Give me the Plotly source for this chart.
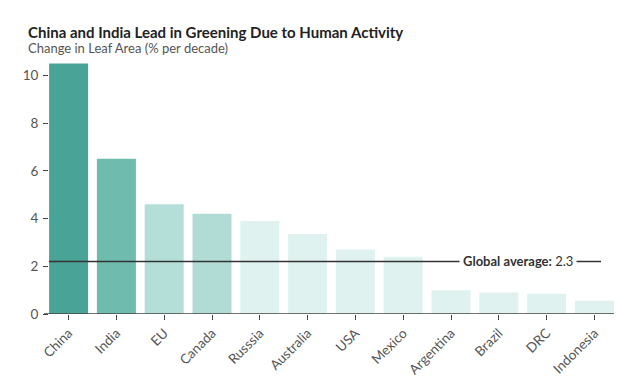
import plotly.graph_objects as go

countries = ["China", "India", "EU", "Canada", "Russsia", "Australia", "USA",
             "Mexico", "Argentina", "Brazil", "DRC", "Indonesia"]
leaf_change = [10.5, 6.5, 4.6, 4.2, 3.9, 3.35, 2.7, 2.4, 1.0, 0.9, 0.85, 0.55]
bar_colors = ["#4aa397", "#6fbcaf", "#b3dfd8", "#b0dcd5", "#dff2ef", "#dff2ef",
              "#dff2ef", "#dff2ef", "#dff2ef", "#dff2ef", "#dff2ef", "#dff2ef"]
y_ticks = [0, 2, 4, 6, 8, 10]
global_avg = 2.2
global_avg_label = "2.3"

FONT = "Lato"
GRAY = "#444444"

fig = go.Figure()
fig.add_trace(go.Bar(
    x=countries, y=leaf_change, marker=dict(color=bar_colors, line=dict(width=0)),
    hoverinfo="x+y",
))

fig.update_layout(
    width=632, height=382,
    margin=dict(l=41, r=26, t=53, b=76),
    plot_bgcolor="white", paper_bgcolor="white",
    bargap=0.184,
    showlegend=False,
    font=dict(family=FONT, color=GRAY, size=13),
    xaxis=dict(
        range=[-0.41, 11.41], showgrid=False, zeroline=False, showline=False,
        ticks="outside", ticklen=5, tickcolor=GRAY, tickwidth=1.2,
        tickangle=-45, tickfont=dict(size=13.5, color="#555555"),
    ),
    yaxis=dict(
        range=[0, 10.6], showgrid=False, zeroline=False, showline=False,
        tickvals=y_ticks, ticks="outside", ticklen=5, tickcolor=GRAY, tickwidth=1.2,
        tickfont=dict(size=13.5, color="#555555"), ticklabelstandoff=2,
    ),
)

# x axis baseline (extends a little to the left like the reference)
fig.add_shape(type="line", xref="paper", yref="y", x0=-5 / 565, x1=1, y0=0, y1=0,
              line=dict(color=GRAY, width=1.5), layer="above")

# global average line
fig.add_shape(type="line", xref="paper", yref="y", x0=0, x1=0.977,
              y0=global_avg, y1=global_avg, line=dict(color="#333333", width=1.3),
              layer="above")
fig.add_annotation(
    xref="paper", yref="y", x=0.83, y=global_avg, xanchor="center", yanchor="middle",
    text="<b>Global average:</b> " + global_avg_label, showarrow=False,
    font=dict(family=FONT, size=13, color="#333333"), bgcolor="white", borderpad=3,
)

# title & subtitle
fig.add_annotation(
    xref="paper", yref="paper", x=-23 / 565, y=1, yshift=18, xanchor="left", yanchor="bottom",
    text="<b>China and India Lead in Greening Due to Human Activity</b>", showarrow=False,
    font=dict(family=FONT, size=15, color="#222222"),
)
fig.add_annotation(
    xref="paper", yref="paper", x=-23 / 565, y=1, yshift=3, xanchor="left", yanchor="bottom",
    text="Change in Leaf Area (% per decade)", showarrow=False,
    font=dict(family=FONT, size=13, color="#555555"),
)

fig.write_html("out.html")
